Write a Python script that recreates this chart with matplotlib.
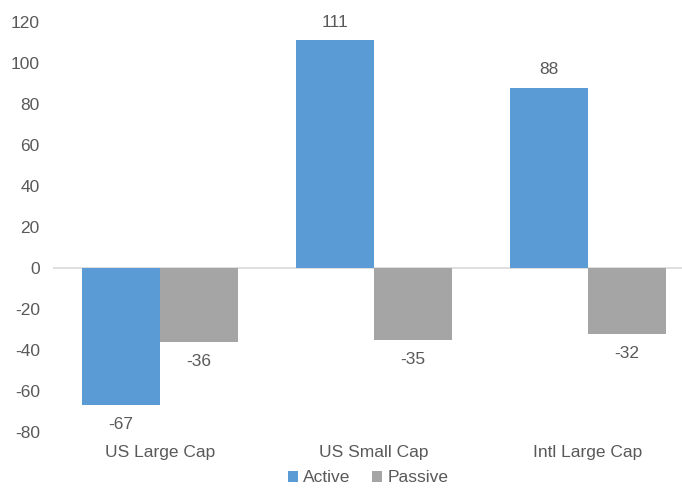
import matplotlib
matplotlib.use("Agg")
import matplotlib.pyplot as plt
import numpy as np

categories = ["US Large Cap", "US Small Cap", "Intl Large Cap"]
active = [-67, 111, 88]
passive = [-36, -35, -32]
yticks = [-80, -60, -40, -20, 0, 20, 40, 60, 80, 100, 120]

plt.rcParams['font.family'] = ['Liberation Sans', 'DejaVu Sans']
txt = '#595959'
fs = 12.5

fig = plt.figure(figsize=(6.82, 4.96), dpi=100)
W, H = 682, 496
ax = fig.add_axes([53 / W, 1 - 432 / H, (682 - 53) / W, (432 - 22) / H])

x = np.arange(len(categories))
bw = 0.364
b1 = ax.bar(x - bw / 2, active, bw, color='#5B9BD5', label='Active')
b2 = ax.bar(x + bw / 2, passive, bw, color='#A5A5A5', label='Passive')

for bars, vals in ((b1, active), (b2, passive)):
    for r, v in zip(bars, vals):
        cx = r.get_x() + r.get_width() / 2
        off = 13 if v >= 0 else -14
        ax.annotate(str(v), (cx, v), xytext=(0, off), textcoords='offset points',
                    ha='center', va='center', fontsize=fs, color=txt)

ax.set_xlim(-0.5, (682 - 160) / 214)
ax.set_ylim(-80, 120)
ax.set_yticks(yticks)
ax.set_yticklabels([str(t) for t in yticks], fontsize=fs, color=txt)
ax.set_xticks([])
for s in ax.spines.values():
    s.set_visible(False)
ax.axhline(0, color='#D9D9D9', lw=1.2, zorder=0)
ax.tick_params(axis='y', length=0, pad=9.5)

for i, c in enumerate(categories):
    ax.text(i, -80 - 20 / 2.05, c, ha='center', va='center',
            fontsize=fs, color=txt)

leg = fig.legend(handles=[b1, b2], labels=['Active', 'Passive'], loc='center',
                 bbox_to_anchor=(368 / W, 1 - 478 / H), ncol=2, frameon=False,
                 fontsize=fs, handlelength=0.6, handleheight=0.6, handletextpad=0.3,
                 columnspacing=1.2)
for t in leg.get_texts():
    t.set_color(txt)

fig.savefig('out.png', dpi=100)
